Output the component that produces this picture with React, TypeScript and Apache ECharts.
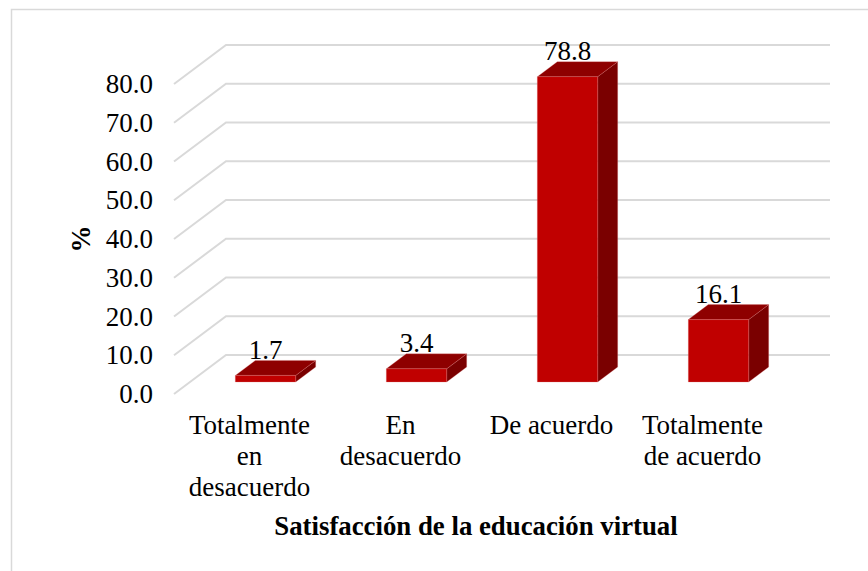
import React, { useEffect, useRef } from "react";
import * as echarts from "echarts";

const categories = ["Totalmente\nen\ndesacuerdo", "En\ndesacuerdo", "De acuerdo", "Totalmente\nde acuerdo"];
const values = [1.7, 3.4, 78.8, 16.1];
const yTicks = [0, 10, 20, 30, 40, 50, 60, 70, 80];
const xTitle = "Satisfacción de la educación virtual";
const yTitle = "%";

const FONT = '"Liberation Serif", "Times New Roman", serif';
const WALL_DX = 52;
const WALL_DY = 39;
const BAR_OFF_X = 16;
const BAR_OFF_Y = 12;
const DEPTH_X = 20;
const DEPTH_Y = 15;

export default function App() {
  const ref = useRef<HTMLDivElement>(null);
  useEffect(() => {
    document.body.style.margin = "0";
    const chart = echarts.init(ref.current!, undefined, { renderer: "svg" });
    chart.setOption({
      animation: false,
      backgroundColor: "#ffffff",
      textStyle: { fontFamily: FONT },
      graphic: [
        {
          type: "polyline",
          silent: true,
          z: -1,
          shape: { points: [[11.5, 571], [11.5, 9.5], [868, 9.5]] },
          style: { fill: "none", stroke: "#d9d9d9", lineWidth: 1.5 },
        },
      ],
      grid: { left: 174, right: 90, top: 84, bottom: 177, containLabel: false },
      xAxis: {
        type: "category",
        data: categories,
        axisLine: { show: false },
        axisTick: { show: false },
        splitLine: { show: false },
        axisLabel: { interval: 0, margin: 15, color: "#000", fontSize: 27, lineHeight: 31, fontFamily: FONT },
        name: xTitle,
        nameLocation: "middle",
        nameGap: 118,
        nameTextStyle: { color: "#000", fontSize: 26.8, fontWeight: "bold", fontFamily: FONT },
      },
      yAxis: {
        type: "value",
        min: 0,
        max: 80,
        interval: 10,
        axisLine: { show: false },
        axisTick: { show: false },
        splitLine: { show: false },
        axisLabel: {
          margin: 21,
          color: "#000",
          fontSize: 27,
          fontFamily: FONT,
          formatter: (v: number) => v.toFixed(1),
        },
        name: yTitle,
        nameLocation: "middle",
        nameRotate: 90,
        nameGap: 79,
        nameTextStyle: { color: "#000", fontSize: 27, fontWeight: "bold", fontFamily: FONT },
      },
      series: [
        {
          type: "custom",
          silent: true,
          z: 1,
          data: yTicks.map((t) => [0, t]),
          encode: { x: 0, y: 1 },
          renderItem: (params: any, api: any) => {
            const cs = params.coordSys;
            const y = api.coord([0, api.value(1)])[1];
            return {
              type: "polyline",
              shape: {
                points: [
                  [cs.x, y],
                  [cs.x + WALL_DX, y - WALL_DY],
                  [cs.x + cs.width + WALL_DX, y - WALL_DY],
                ],
              },
              style: { fill: "none", stroke: "#d9d9d9", lineWidth: 2 },
            };
          },
        },
        {
          type: "custom",
          silent: true,
          z: 2,
          data: values.map((v, i) => [i, v]),
          encode: { x: 0, y: 1 },
          renderItem: (_params: any, api: any) => {
            const i = api.value(0);
            const v = api.value(1);
            const top = api.coord([i, v]);
            const base = api.coord([i, 0]);
            const w = api.size([1, 0])[0] * 0.4;
            const l = top[0] + BAR_OFF_X - w / 2;
            const r = l + w;
            const t = top[1] - BAR_OFF_Y;
            const b = base[1] - BAR_OFF_Y;
            const edge = { stroke: "rgba(220,120,120,0.45)", lineWidth: 0.6 };
            return {
              type: "group",
              children: [
                {
                  type: "polygon",
                  shape: { points: [[r, t], [r + DEPTH_X, t - DEPTH_Y], [r + DEPTH_X, b - DEPTH_Y], [r, b]] },
                  style: { fill: "#7a0000", ...edge },
                },
                {
                  type: "polygon",
                  shape: { points: [[l, t], [l + DEPTH_X, t - DEPTH_Y], [r + DEPTH_X, t - DEPTH_Y], [r, t]] },
                  style: { fill: "#8e0000", ...edge },
                },
                {
                  type: "polygon",
                  shape: { points: [[l, t], [r, t], [r, b], [l, b]] },
                  style: { fill: "#c00000", ...edge },
                },
                {
                  type: "text",
                  style: {
                    text: v.toFixed(1),
                    x: (l + r) / 2,
                    y: t - DEPTH_Y + 3,
                    align: "center",
                    verticalAlign: "bottom",
                    fill: "#000",
                    font: `27px ${FONT}`,
                  },
                },
              ],
            };
          },
        },
      ],
    });
    return () => chart.dispose();
  }, []);
  return <div ref={ref} style={{ width: 868, height: 571 }} />;
}
